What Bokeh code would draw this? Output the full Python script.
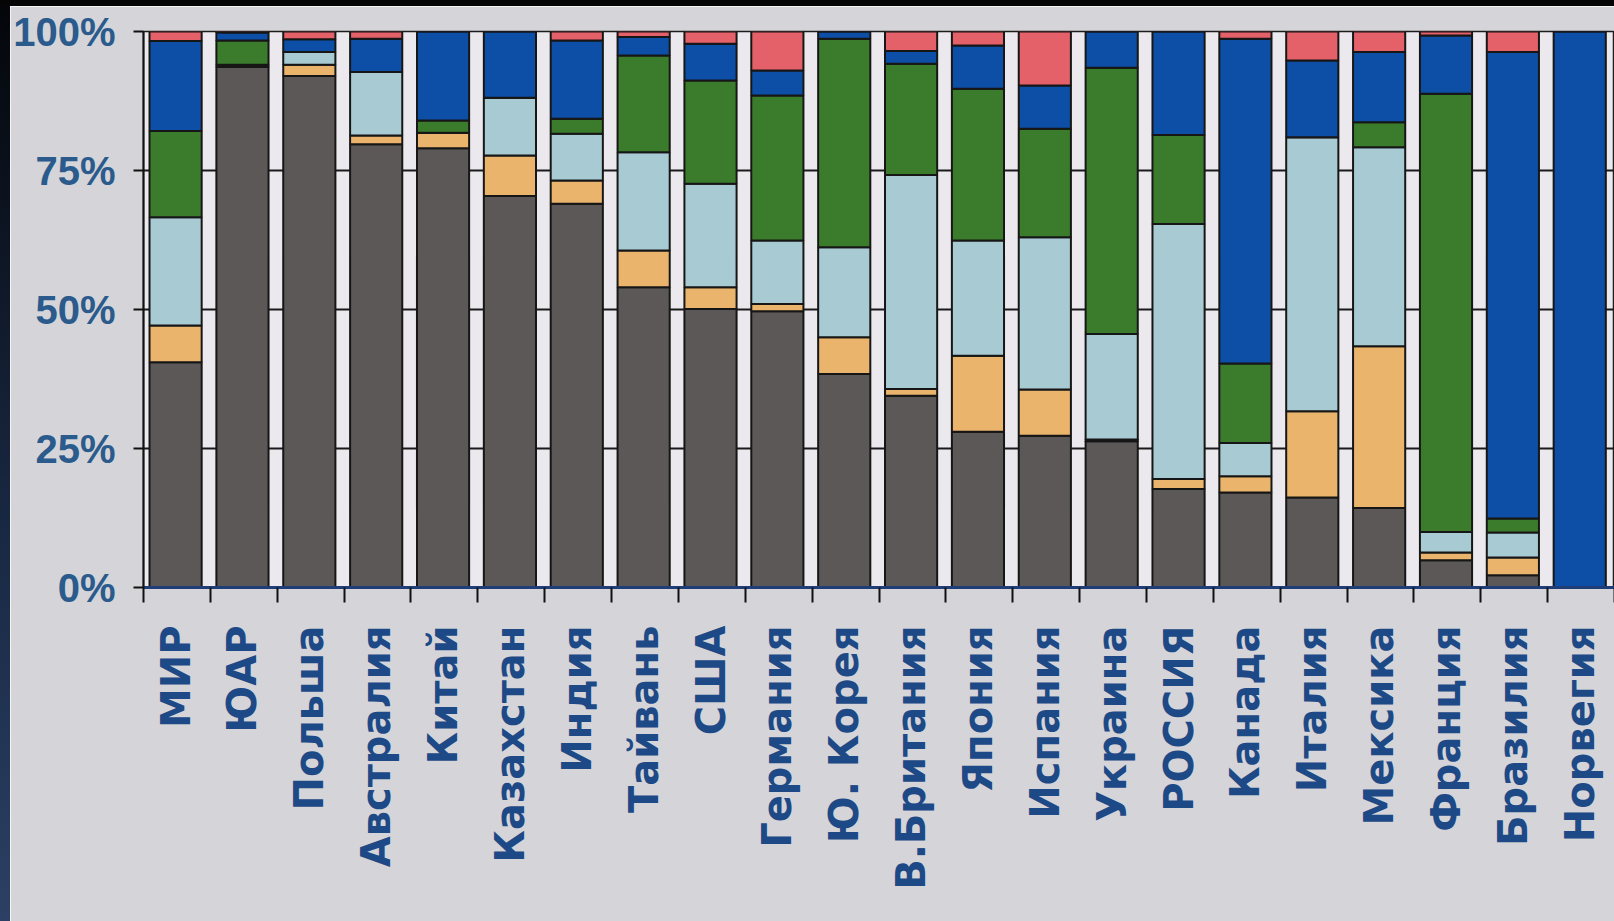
import math

from bokeh.plotting import figure
from bokeh.models import (ColumnDataSource, FixedTicker, Range1d, Div,
                          PrintfTickFormatter, CustomJSTickFormatter)
from bokeh.layouts import column, row
from bokeh.embed import file_html
from bokeh.resources import INLINE

# Electricity generation mix by source, share of total (%)
countries = ["МИР", "ЮАР", "Польша", "Австралия", "Китай", "Казахстан", "Индия",
             "Тайвань", "США", "Германия", "Ю. Корея", "В.Британия", "Япония",
             "Испания", "Украина", "РОССИЯ", "Канада", "Италия", "Мексика",
             "Франция", "Бразилия", "Норвегия"]

coal    = [40.5, 93.6, 92.0, 79.7, 79.0, 70.4, 69.0, 54.0, 50.1, 49.7, 38.4,
           34.5, 28.0, 27.3, 26.3, 17.7, 17.1, 16.2, 14.3, 4.9, 2.2, 0.0]
oil     = [6.6, 0.4, 2.0, 1.6, 2.8, 7.3, 4.2, 6.6, 3.9, 1.3, 6.6,
           1.2, 13.7, 8.3, 0.3, 1.8, 2.9, 15.5, 29.1, 1.4, 3.2, 0.0]
gas     = [19.5, 0.0, 2.3, 11.4, 0.0, 10.4, 8.4, 17.7, 18.6, 11.4, 16.2,
           38.5, 20.7, 27.4, 19.0, 45.9, 6.0, 49.3, 35.8, 3.7, 4.5, 0.0]
nuclear = [15.5, 4.4, 0.0, 0.0, 2.2, 0.0, 2.7, 17.4, 18.6, 26.1, 37.5,
           20.0, 27.3, 19.5, 47.9, 16.0, 14.3, 0.0, 4.5, 78.8, 2.5, 0.0]
hydro   = [16.2, 1.4, 2.3, 6.0, 16.0, 11.9, 14.1, 3.3, 6.6, 4.5, 1.3,
           2.3, 7.8, 7.8, 6.5, 18.6, 58.4, 13.8, 12.6, 10.5, 83.9, 100.0]
other   = [1.7, 0.2, 1.4, 1.3, 0.0, 0.0, 1.6, 1.0, 2.2, 7.0, 0.0,
           3.5, 2.5, 9.7, 0.0, 0.0, 1.3, 5.2, 3.7, 0.7, 3.7, 0.0]

y_ticks = [0, 25, 50, 75, 100]

stack_keys = ["coal", "oil", "gas", "nuclear", "hydro", "other"]
stack_colors = ["#5c5858", "#ebb46c", "#a8cbd3", "#3b7c2c", "#0d4fa6", "#e4616a"]

n = len(countries)
centers = [i + 0.48 for i in range(n)]
source = ColumnDataSource(dict(x=centers, coal=coal, oil=oil, gas=gas,
                               nuclear=nuclear, hydro=hydro, other=other))

p = figure(width=1604, height=915, x_range=Range1d(0, n), y_range=Range1d(0, 100),
           output_backend="svg", toolbar_location=None,
           min_border_left=130, min_border_right=0,
           min_border_top=25, min_border_bottom=334, margin=0)

p.background_fill_color = "#ebe9ed"
p.border_fill_color = "#d5d5d9"
p.outline_line_color = "#1c1c1c"
p.outline_line_width = 1.5

p.vbar_stack(stack_keys, x="x", width=0.78, source=source,
             fill_color=stack_colors, line_color="#161616", line_width=2)

# horizontal rules at quarter marks, visible between the bars
p.xgrid.visible = False
p.ygrid.ticker = FixedTicker(ticks=[25, 50, 75])
p.ygrid.grid_line_color = "#1a1a1a"
p.ygrid.grid_line_width = 2

# y axis: percentages
yax = p.yaxis[0]
yax.ticker = FixedTicker(ticks=y_ticks)
yax.formatter = PrintfTickFormatter(format="%d%%")
yax.axis_line_color = "#111111"
yax.axis_line_width = 2
yax.major_tick_line_color = "#111111"
yax.major_tick_line_width = 2
yax.major_tick_out = 10
yax.major_tick_in = 0
yax.minor_tick_line_color = None
yax.major_label_standoff = 18
yax.major_label_text_font = "Liberation Sans"
yax.major_label_text_font_style = "bold"
yax.major_label_text_font_size = "40px"
yax.major_label_text_color = "#2b5b8c"

# x axis: country names under bars, ticks at the boundaries
xax = p.xaxis[0]
xax.ticker = FixedTicker(ticks=centers, minor_ticks=list(range(n + 1)))
xax.formatter = CustomJSTickFormatter(args=dict(names=countries),
                                      code="return names[Math.floor(tick)];")
xax.axis_line_color = "#1f3e78"
xax.axis_line_width = 3
xax.major_tick_line_color = None
xax.major_tick_out = 0
xax.major_tick_in = 0
xax.minor_tick_line_color = "#111111"
xax.minor_tick_line_width = 2
xax.minor_tick_out = 15
xax.minor_tick_in = 0
xax.major_label_orientation = math.pi / 2
xax.major_label_standoff = 23
xax.major_label_text_font = "DejaVu Sans"
xax.major_label_text_font_style = "bold"
xax.major_label_text_font_size = "40px"
xax.major_label_text_color = "#1d4a87"

top_band = Div(width=1614, height=6, margin=0,
               styles={"background-color": "#050506"})
left_band = Div(width=10, height=915, margin=0,
                styles={"background": "linear-gradient(#04060a, #1a2a45 60%, #2b4064)"})

layout = column(top_band, row(left_band, p, spacing=0, margin=0), spacing=0, margin=0)

open("out.html", "w").write(file_html(layout, INLINE))
